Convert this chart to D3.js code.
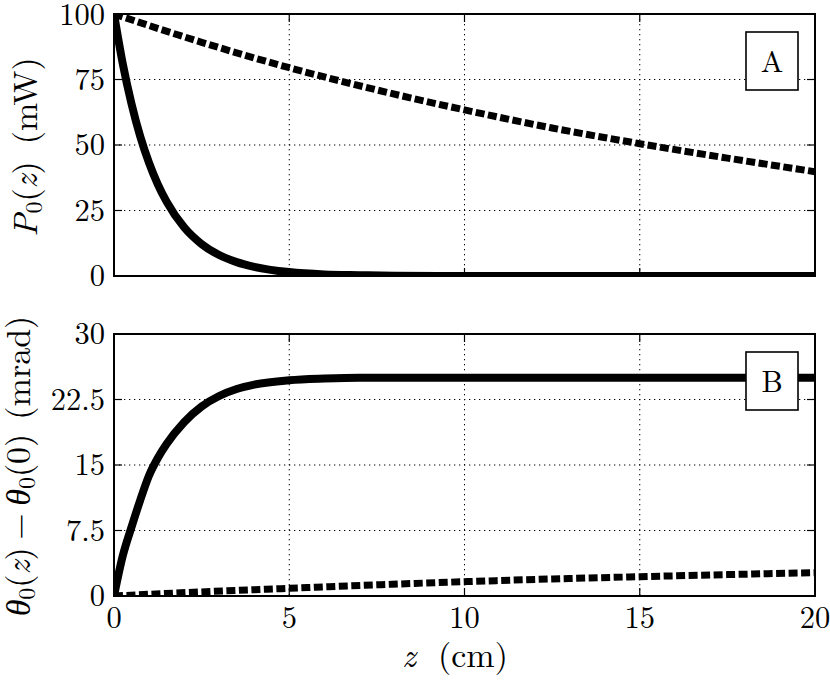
<!DOCTYPE html>
<html>
<head>
<meta charset="utf-8">
<script src="https://cdn.jsdelivr.net/npm/d3@7"></script>
<style>
  body { margin: 0; background: #fff; }
</style>
</head>
<body>
<div id="chart"></div>
<script>
var width = 830, height = 680;

// values
var zFine = [0, 0.25, 0.5, 0.75, 1, 1.25, 1.5, 2, 2.5, 3, 3.5, 4, 5, 6, 7, 8, 10, 12, 15, 20];
var powerSolid = [100, 81, 65.7, 53.2, 43.2, 35, 28.4, 18.6, 12.2, 8, 5.3, 3.5, 1.5, 0.6, 0.3, 0.1, 0, 0, 0, 0];
var angleSolid = [0, 4.6, 7.9, 11, 13.8, 15.8, 17.4, 19.9, 21.7, 22.9, 23.7, 24.2, 24.7, 24.9, 25, 25, 25, 25, 25, 25];

var zCoarse = [0, 2.5, 5, 7.5, 10, 12.5, 15, 17.5, 20];
var powerDashed = [100, 89.2, 79.5, 71, 63.4, 56.5, 50.5, 45, 39.8];
var angleDashed = [0, 0.47, 0.88, 1.28, 1.64, 1.95, 2.21, 2.45, 2.67];

var xTicks = [0, 5, 10, 15, 20];
var powerTicks = [0, 25, 50, 75, 100];
var angleTicks = [0, 7.5, 15, 22.5, 30];

var left = 114, right = 815, panelH = 262;
var topA = 14, topB = 334;
var tickSize = 30.5, labelSize = 34, subSize = 24;

// pick the first serif face that is really installed
function pickFont(cands) {
    var ctx = document.createElement("canvas").getContext("2d");
    var probe = "mmmmWWWWiiiil1100";
    ctx.font = "40px monospace";
    var base = ctx.measureText(probe).width;
    for (var i = 0; i < cands.length; i++) {
        ctx.font = "40px '" + cands[i] + "', monospace";
        if (ctx.measureText(probe).width !== base) return "'" + cands[i] + "'";
    }
    return "serif";
}
var serif = pickFont(["Latin Modern Roman", "CMU Serif", "DejaVu Serif", "Liberation Serif", "Times New Roman", "Noto Serif"]);

var svg = d3.select("#chart").append("svg")
    .attr("width", width)
    .attr("height", height)
    .style("font-family", serif);

var x = d3.scaleLinear().domain([0, 20]).range([left, right]);

function panel(top, yMax, yTicks, series, letter, id) {
    var y = d3.scaleLinear().domain([0, yMax]).range([top + panelH, top]);
    var g = svg.append("g");

    g.append("clipPath").attr("id", id)
      .append("rect")
      .attr("x", left).attr("y", top)
      .attr("width", right - left).attr("height", panelH);

    // dotted grid
    g.selectAll(".gx").data(xTicks.slice(1, -1)).enter().append("line")
      .attr("x1", d => x(d)).attr("x2", d => x(d))
      .attr("y1", top).attr("y2", top + panelH)
      .attr("stroke", "#000").attr("stroke-width", 1)
      .attr("stroke-dasharray", "1.3,3.7");
    g.selectAll(".gy").data(yTicks.slice(1, -1)).enter().append("line")
      .attr("x1", left).attr("x2", right)
      .attr("y1", d => y(d)).attr("y2", d => y(d))
      .attr("stroke", "#000").attr("stroke-width", 1)
      .attr("stroke-dasharray", "1.3,3.7");

    // inward ticks
    g.selectAll(".tb").data(xTicks).enter().append("line")
      .attr("x1", d => x(d)).attr("x2", d => x(d))
      .attr("y1", top + panelH).attr("y2", top + panelH - 8)
      .attr("stroke", "#000").attr("stroke-width", 1.2);
    g.selectAll(".tt").data(xTicks).enter().append("line")
      .attr("x1", d => x(d)).attr("x2", d => x(d))
      .attr("y1", top).attr("y2", top + 8)
      .attr("stroke", "#000").attr("stroke-width", 1.2);
    g.selectAll(".tl").data(yTicks).enter().append("line")
      .attr("x1", left).attr("x2", left + 8)
      .attr("y1", d => y(d)).attr("y2", d => y(d))
      .attr("stroke", "#000").attr("stroke-width", 1.2);
    g.selectAll(".tr").data(yTicks).enter().append("line")
      .attr("x1", right).attr("x2", right - 8)
      .attr("y1", d => y(d)).attr("y2", d => y(d))
      .attr("stroke", "#000").attr("stroke-width", 1.2);

    // curves
    series.forEach(function(s) {
        var pts = s.z.map((z, i) => [z, s.v[i]]);
        g.append("path")
          .datum(pts)
          .attr("clip-path", "url(#" + id + ")")
          .attr("fill", "none")
          .attr("stroke", "#000")
          .attr("stroke-width", s.dashed ? 7 : 8)
          .attr("stroke-dasharray", s.dashed ? "9,3.5" : null)
          .attr("d", d3.line().x(d => x(d[0])).y(d => y(d[1])).curve(d3.curveMonotoneX));
    });

    // frame
    g.append("rect")
      .attr("x", left).attr("y", top)
      .attr("width", right - left).attr("height", panelH)
      .attr("fill", "none").attr("stroke", "#000").attr("stroke-width", 2);

    // y tick labels
    g.selectAll(".yl").data(yTicks).enter().append("text")
      .attr("x", left - 9).attr("y", d => y(d))
      .attr("dy", d => d === 100 ? "0.36em" : "0.33em")
      .attr("text-anchor", "end")
      .attr("font-size", tickSize)
      .text(d => d);

    // letter box
    g.append("rect")
      .attr("x", 746).attr("y", top + 18)
      .attr("width", 52).attr("height", 58)
      .attr("fill", "#fff").attr("stroke", "#000").attr("stroke-width", 1.6);
    g.append("text")
      .attr("x", 772).attr("y", top + 47)
      .attr("dy", "0.35em")
      .attr("text-anchor", "middle")
      .attr("font-size", 30)
      .text(letter);

    return y;
}

panel(topA, 100, powerTicks, [
    {z: zFine, v: powerSolid, dashed: false},
    {z: zCoarse, v: powerDashed, dashed: true}
], "A", "clipA");

panel(topB, 30, angleTicks, [
    {z: zFine, v: angleSolid, dashed: false},
    {z: zCoarse, v: angleDashed, dashed: true}
], "B", "clipB");

// x tick labels
svg.selectAll(".xl").data(xTicks).enter().append("text")
   .attr("x", d => x(d)).attr("y", 628)
   .attr("text-anchor", "middle")
   .attr("font-size", tickSize)
   .text(d => d);

// x axis label
var xl = svg.append("text")
   .attr("x", 455).attr("y", 667)
   .attr("text-anchor", "middle")
   .attr("font-size", labelSize);
xl.append("tspan").attr("font-style", "italic").text("z");
xl.append("tspan").attr("dx", 22).text("(cm)");

// y axis labels
var yl1 = svg.append("text")
   .attr("transform", "translate(37,147) rotate(-90)")
   .attr("text-anchor", "middle")
   .attr("font-size", labelSize);
yl1.append("tspan").attr("font-style", "italic").text("P");
yl1.append("tspan").attr("font-size", subSize).attr("dy", 5).text("0");
yl1.append("tspan").attr("dy", -5).text("(");
yl1.append("tspan").attr("font-style", "italic").text("z");
yl1.append("tspan").text(")");
yl1.append("tspan").attr("dx", 17).text("(mW)");

var yl2 = svg.append("text")
   .attr("transform", "translate(30,466) rotate(-90)")
   .attr("text-anchor", "middle")
   .attr("font-size", labelSize);
yl2.append("tspan").attr("font-style", "italic").text("\u03b8");
yl2.append("tspan").attr("font-size", subSize).attr("dy", 5).text("0");
yl2.append("tspan").attr("dy", -5).text("(");
yl2.append("tspan").attr("font-style", "italic").text("z");
yl2.append("tspan").text(")");
yl2.append("tspan").attr("dx", 7.5).text("\u2212");
yl2.append("tspan").attr("dx", 7.5).attr("font-style", "italic").text("\u03b8");
yl2.append("tspan").attr("font-size", subSize).attr("dy", 5).text("0");
yl2.append("tspan").attr("dy", -5).text("(0)");
yl2.append("tspan").attr("dx", 14).text("(mrad)");
</script>
</body>
</html>
